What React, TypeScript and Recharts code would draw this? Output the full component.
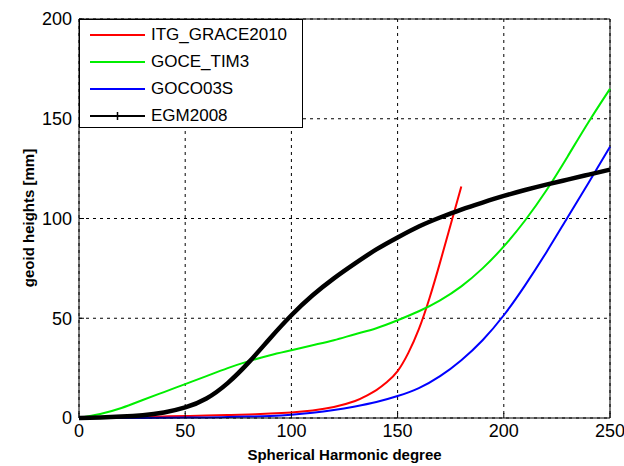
import { LineChart, Line, XAxis, YAxis, CartesianGrid, Legend, ReferenceLine } from 'recharts';

// spherical harmonic degree (every 10) for the full-length series
const degrees = [0, 10, 20, 30, 40, 50, 60, 70, 80, 90, 100, 110, 120, 130, 140, 150, 160, 170, 180, 190, 200, 210, 220, 230, 240, 250];
const egm2008 = [0, 0.3, 0.7, 1.4, 2.8, 5.3, 9.8, 17.5, 28, 40, 51.5, 61.5, 70, 77.5, 84.5, 90.5, 96, 100.5, 104.5, 108, 111.3, 114.3, 117, 119.5, 122, 124.5];
const goceTim3 = [0, 2, 5, 9, 13, 17, 21, 25, 28.5, 31.5, 34, 36.5, 39, 42, 45, 49, 53.5, 59, 66, 75, 86, 99, 114, 131, 148.5, 165];
const goco03s = [0, 0, 0, 0, 0.1, 0.2, 0.3, 0.5, 0.7, 1, 1.6, 2.6, 4, 5.8, 8, 11, 15, 21, 29, 39, 51.5, 66.5, 83, 100.5, 118, 136];

// ITG_GRACE2010 stops at degree 180
const graceDegrees = [0, 10, 20, 30, 40, 50, 60, 70, 80, 90, 100, 110, 120, 130, 135, 140, 145, 150, 155, 160, 165, 170, 175, 180];
const itgGrace2010 = [0, 0.2, 0.4, 0.6, 0.8, 1, 1.2, 1.5, 1.8, 2.2, 2.8, 3.8, 5.5, 8.5, 11, 14, 18, 23.5, 32.5, 44.5, 60, 78, 97, 116];

const xTicks = [0, 50, 100, 150, 200, 250];
const yTicks = [0, 50, 100, 150, 200];

const series = [
  { name: 'ITG_GRACE2010', color: '#ff0000', x: graceDegrees, y: itgGrace2010, width: 2 },
  { name: 'GOCE_TIM3', color: '#00ee00', x: degrees, y: goceTim3, width: 2 },
  { name: 'GOCO03S', color: '#0000ff', x: degrees, y: goco03s, width: 2 },
  { name: 'EGM2008', color: '#000000', x: degrees, y: egm2008, width: 4.5 },
];

const font = '"Liberation Sans", Arial, sans-serif';

function LegendBox() {
  return (
    <div style={{ width: 222, height: 107, border: '1px solid #000', background: '#fff', fontFamily: font, fontSize: 17, color: '#000' }}>
      {series.map((s, i) => (
        <div key={s.name} style={{ position: 'absolute', left: 0, top: 5 + i * 27, height: 22, display: 'flex', alignItems: 'center' }}>
          <svg width={72} height={22}>
            <line x1={11} x2={66} y1={11} y2={11} stroke={s.color} strokeWidth={2} />
            {s.name === 'EGM2008' && <path d="M38.5 7 V15 M34.5 11 H42.5" stroke="#000" strokeWidth={1.5} />}
          </svg>
          <span>{s.name}</span>
        </div>
      ))}
    </div>
  );
}

function YLabel() {
  return (
    <text x={28} y={218} transform="rotate(-90 28 218)" textAnchor="middle" dominantBaseline="central"
      fontFamily={font} fontSize={15} fontWeight="bold" fill="#000">
      geoid heights [mm]
    </text>
  );
}

export default function App() {
  return (
    <div style={{ position: 'absolute', left: 0, top: 0, background: '#fff' }}>
      <LineChart width={624} height={466} margin={{ top: 19, right: 14, bottom: 0, left: 0 }}>
        <CartesianGrid stroke="#000" strokeDasharray="3 4" />
        <XAxis
          type="number"
          dataKey="deg"
          domain={[0, 250]}
          ticks={xTicks}
          height={48}
          stroke="#000"
          tickSize={-5}
          tickMargin={11}
          tick={{ fill: '#000', fontSize: 18, fontFamily: font }}
          label={{ value: 'Spherical Harmonic degree', position: 'insideBottom', offset: 6, fill: '#000', fontSize: 15, fontWeight: 'bold', fontFamily: font }}
          allowDuplicatedCategory={false}
        />
        <YAxis
          type="number"
          domain={[0, 200]}
          ticks={yTicks}
          width={79}
          stroke="#000"
          tickSize={-5}
          tickMargin={12}
          tick={{ fill: '#000', fontSize: 18, fontFamily: font }}
          label={<YLabel />}
        />
        <ReferenceLine y={200} stroke="#000" strokeWidth={1} />
        <ReferenceLine x={250} stroke="#000" strokeWidth={1} />
        <Legend
          layout="vertical"
          align="center"
          verticalAlign="middle"
          content={() => <LegendBox />}
          wrapperStyle={{ left: 79, top: 19, width: 224, height: 109 }}
        />
        {series.map((s) => (
          <Line
            key={s.name}
            name={s.name}
            data={s.x.map((d, i) => ({ deg: d, v: s.y[i] }))}
            dataKey="v"
            type="natural"
            stroke={s.color}
            strokeWidth={s.width}
            dot={false}
            isAnimationActive={false}
          />
        ))}
      </LineChart>
    </div>
  );
}
